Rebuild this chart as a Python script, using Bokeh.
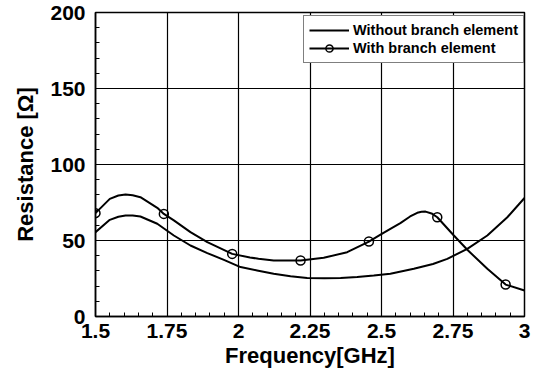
from bokeh.plotting import figure
from bokeh.models import Range1d, SingleIntervalTicker, Legend, LegendItem
from bokeh.embed import file_html
from bokeh.resources import INLINE

# Without branch element
freq_without = [1.50, 1.55, 1.58, 1.605, 1.63, 1.657, 1.716, 1.774, 1.832, 1.891, 1.949, 2.007,
                2.065, 2.123, 2.182, 2.240, 2.300, 2.357, 2.415, 2.473, 2.531, 2.613,
                2.680, 2.730, 2.800, 2.870, 2.940, 3.00]
res_without = [55.5, 63.6, 65.6, 66.4, 66.4, 65.8, 61.0, 53.3, 46.7, 41.7, 37.3, 32.5,
               30.3, 28.1, 26.5, 25.4, 25.2, 25.4, 26.0, 27.0, 28.1, 31.4,
               34.5, 37.9, 44.5, 53.3, 65.3, 78.0]

# With branch element (line)
freq_with = [1.50, 1.55, 1.58, 1.605, 1.63, 1.657, 1.716, 1.739, 1.774, 1.832, 1.891, 1.978,
             2.04, 2.07, 2.123, 2.217, 2.298, 2.380, 2.456, 2.495, 2.531, 2.566,
             2.600, 2.625, 2.640, 2.654, 2.675, 2.695, 2.753, 2.800, 2.870, 2.934, 3.00]
res_with = [68.0, 77.4, 79.6, 80.3, 79.8, 78.5, 71.5, 67.5, 63.2, 55.5, 48.9, 41.2,
            38.8, 38.0, 36.8, 36.8, 38.6, 42.3, 49.3, 53.7, 57.7, 61.4,
            65.8, 68.2, 68.9, 69.0, 67.8, 65.3, 53.3, 43.9, 31.4, 21.0, 17.1]

# With branch element (markers)
freq_marker = [1.50, 1.739, 1.978, 2.217, 2.456, 2.695, 2.934]
res_marker = [68.0, 67.5, 41.2, 36.8, 49.3, 65.3, 21.0]

x_ticks = [1.5, 1.75, 2.0, 2.25, 2.5, 2.75, 3.0]
x_tick_labels = ["1.5", "1.75", "2", "2.25", "2.5", "2.75", "3"]

FONT = "Liberation Sans"

p = figure(width=540, height=386, output_backend="svg", toolbar_location=None,
           x_range=Range1d(1.5, 3.0), y_range=Range1d(0, 200),
           min_border_left=95, min_border_right=16, min_border_top=12,
           min_border_bottom=70)
p.background_fill_color = "white"
p.border_fill_color = "white"
p.outline_line_color = "black"
p.outline_line_width = 1.5

p.xaxis.ticker = SingleIntervalTicker(interval=0.25, num_minor_ticks=5)
p.yaxis.ticker = SingleIntervalTicker(interval=50, num_minor_ticks=5)
p.xaxis.major_label_overrides = {t: l for t, l in zip(x_ticks, x_tick_labels)}

for ax in (p.xaxis[0], p.yaxis[0]):
    ax.axis_line_color = "black"
    ax.axis_line_width = 1.5
    ax.major_tick_in = 0
    ax.major_tick_out = 0
    ax.minor_tick_in = 4
    ax.minor_tick_out = 0
    ax.minor_tick_line_color = "black"
    ax.minor_tick_line_width = 1
    ax.major_label_text_font = FONT
    ax.major_label_text_font_style = "bold"
    ax.major_label_text_font_size = "21px"
    ax.major_label_text_color = "black"
    ax.axis_label_text_font = FONT
    ax.axis_label_text_font_style = "bold"
    ax.axis_label_text_font_size = "22px"
    ax.axis_label_text_color = "black"

p.xaxis.axis_label = "Frequency[GHz]"
p.yaxis.axis_label = "Resistance [Ω]"
p.xaxis.major_label_standoff = 7
p.xaxis.axis_label_standoff = 2
p.yaxis.major_label_standoff = 10
p.yaxis.axis_label_standoff = 9

p.xgrid.grid_line_color = "black"
p.ygrid.grid_line_color = "black"
p.xgrid.grid_line_width = 1.2
p.ygrid.grid_line_width = 1.2

r1 = p.line(freq_without, res_without, line_color="black", line_width=2)
r2 = p.line(freq_with, res_with, line_color="black", line_width=2)
r3 = p.scatter(freq_marker, res_marker, marker="circle", size=9,
               line_color="black", line_width=1.5, fill_alpha=0)

legend = Legend(items=[LegendItem(label="Without branch element", renderers=[r1]),
                       LegendItem(label="With branch element", renderers=[r2, r3])],
                location=(208, 253), margin=0, padding=5, spacing=0,
                glyph_width=40, glyph_height=18, label_height=18,
                label_standoff=4,
                label_text_font=FONT, label_text_font_style="bold",
                label_text_font_size="14.5px", label_text_color="black",
                border_line_color="black", border_line_width=1.2,
                background_fill_color="white", background_fill_alpha=1)
p.add_layout(legend, "center")

open("out.html", "w").write(file_html(p, INLINE))
